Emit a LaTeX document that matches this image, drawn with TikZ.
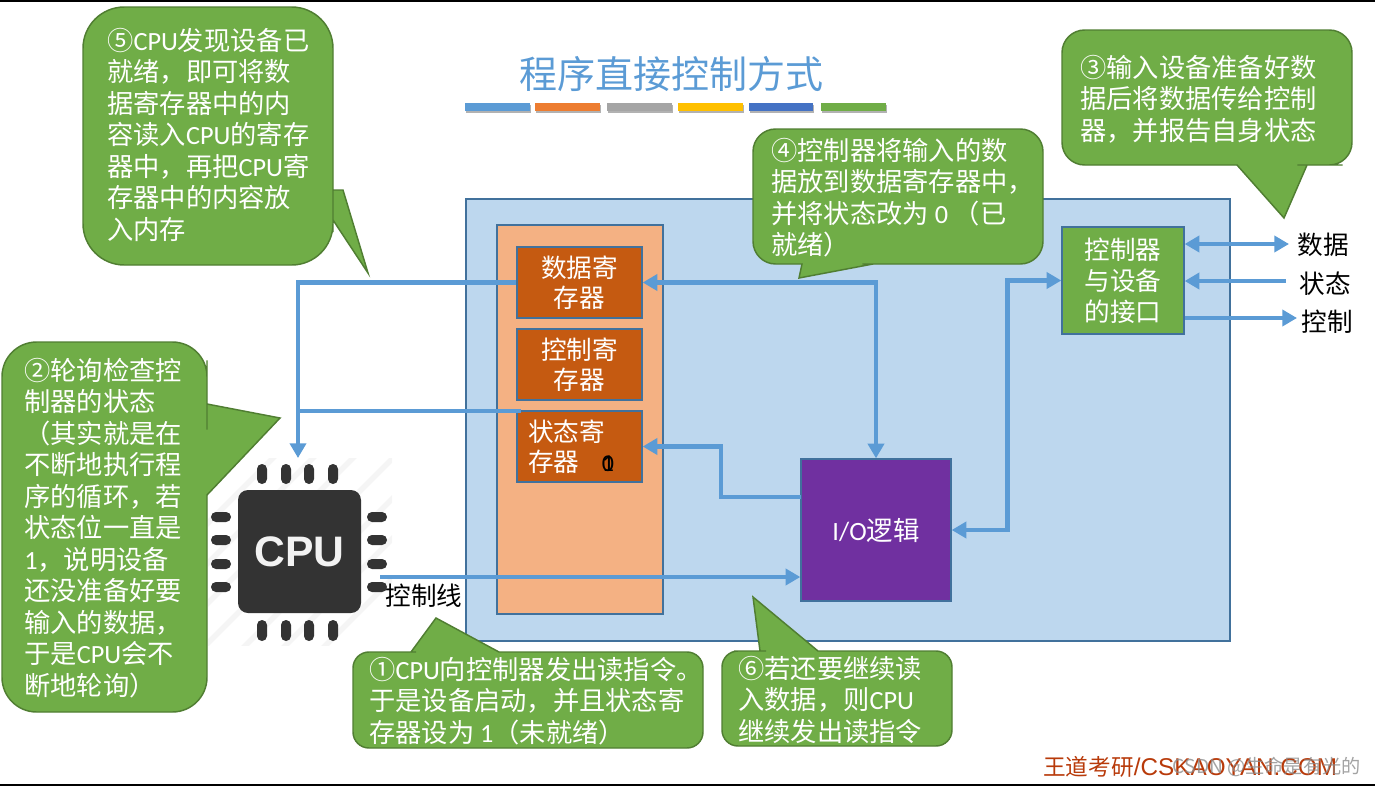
\documentclass[tikz,border=0pt]{standalone}
\usepackage{fontspec}
\setmainfont{Noto Sans CJK SC}
\newfontfamily\latinfont{Carlito}
\newfontfamily\arialfont{Liberation Sans}
\newcommand{\lat}[1]{{\latinfont #1}}
\usetikzlibrary{arrows.meta}
\def\px{0.75pt}
\definecolor{panelblue}{HTML}{BDD7EE}
\definecolor{edgeblue}{HTML}{41719C}
\definecolor{flowblue}{HTML}{5B9BD5}
\definecolor{peach}{HTML}{F4B183}
\definecolor{regorange}{HTML}{C55A11}
\definecolor{calloutgreen}{HTML}{70AD47}
\definecolor{calloutedge}{HTML}{507E32}
\definecolor{iopurple}{HTML}{7030A0}
\definecolor{chipgray}{HTML}{333333}
\definecolor{brandred}{HTML}{B83A0A}
\begin{document}
\begin{tikzpicture}[
        x=\px, y=-\px,
        every node/.style={inner sep=0pt, font=\fontsize{19.2}{23.2}\selectfont},
        block/.style={draw=edgeblue, line width=1pt, text=white, align=center},
        reg/.style={block, fill=regorange, minimum width=125*\px, minimum height=71*\px, font=\fontsize{19.2}{22.5}\selectfont},
        flow/.style={draw=flowblue, line width=3.5pt, -{Triangle[length=11pt,width=12pt]}},
        dflow/.style={flow, {Triangle[length=11pt,width=12pt]}-{Triangle[length=11pt,width=12pt]}},
        rflow/.style={flow, {Triangle[length=11pt,width=12pt]}-},
        callout/.style={draw=calloutedge, fill=calloutgreen, line width=1.1pt},
        note/.style={anchor=north west, text=white, align=left, font=\fontsize{19.7}{23.6}\selectfont},
        pin/.style={fill=chipgray, rounded corners=3.7pt},
        signal/.style={text=black}
    ]
    \useasboundingbox (0,0) rectangle (1375,786);
    \fill[black] (0,0) rectangle (1375,1.5);
    \fill[black] (0,783.5) rectangle (1375,786);

    \node[text=flowblue, font=\fontsize{28.5}{32}\selectfont] (title) at (671,74) {程序直接控制方式};
    \foreach \xa/\xb/\barcol in {465/530/5B9BD5, 535/600/ED7D31, 607/672/A5A5A5, 678/743/FFC000, 749/813/4472C4, 821/886/70AD47} {
        \definecolor{barcol}{HTML}{\barcol}
        \fill[black!30] (\xa+1,105) rectangle (\xb+1,113);
        \fill[barcol] (\xa,103) rectangle (\xb,111);
    }

    \begin{scope}
        \clip (208,458) rectangle (392,645);
        \foreach \d in {-120,-80,...,120} {
            \draw[black!4, line width=4pt] (299+\d-100,552+100) -- (299+\d+100,552-100);
        }
    \end{scope}

    \draw[draw=edgeblue, fill=panelblue, line width=1pt] (466,199) rectangle (1230,641);
    \draw[draw=edgeblue, fill=peach, line width=1pt] (497,225) rectangle (663,614);

    \node[reg] (datareg) at (579.5,282.5) {数据寄\\存器};
    \node[reg] (ctrlreg) at (579.5,364.5) {控制寄\\存器};
    \node[reg] (statreg) at (579.5,446.5) {状态寄\phantom{状}\\存器\phantom{状状}};
    \node[signal, font=\latinfont\fontsize{18}{20}\selectfont] (statzero) at (608,464) {0};
    \node[signal, font=\latinfont\fontsize{18}{20}\selectfont] (statone) at (608,464) {1};
    \node[block, fill=iopurple, minimum width=150*\px, minimum height=142*\px, font=\fontsize{19.8}{23}\selectfont] (iologic) at (876,530) {\raisebox{-2.2pt}{\lat{I/O}逻辑}};
    \node[block, fill=calloutgreen, minimum width=122*\px, minimum height=107*\px, font=\fontsize{19.2}{23.2}\selectfont] (ctrlport) at (1123,280.5) {\raisebox{-1.5pt}{控制器}\\\raisebox{-1.5pt}{与设备}\\\raisebox{-1.5pt}{的接口}};

    \node[pin, fill=chipgray, rounded corners=7.5pt, minimum width=123*\px, minimum height=123*\px, text=white!95!black, font=\arialfont\bfseries\fontsize{32}{36}\selectfont] (cpu) at (299.5,551.5) {CPU};
    \foreach \p in {262,286,309,333} {
        \fill[pin] (\p-5,464) rectangle (\p+5,484);
        \fill[pin] (\p-5,620) rectangle (\p+5,641);
    }
    \foreach \p in {517,540,564,587} {
        \fill[pin] (211,\p-5) rectangle (231,\p+5);
        \fill[pin] (367,\p-5) rectangle (387,\p+5);
    }

    \node[signal] (datasig) at (1323,245) {数据};
    \node[signal] (statsig) at (1325,284) {状态};
    \node[signal] (ctrlsig) at (1327,322) {控制};
    \node[signal] (ctrlline) at (424,596) {控制线};

    \coordinate (cpuin) at (298,458);
    \coordinate (cpujoin) at (298,411);
    \coordinate (cpuout) at (380,577);
    \coordinate (iostat) at (801,497);
    \coordinate (datapin) at (1289,244);
    \coordinate (statpin) at (1286,281);
    \coordinate (ctrlpin) at (1297,318);

    \draw[flow] (datareg.west) -| (cpuin);
    \draw[draw=flowblue, line width=3.2pt] ([xshift=3.5pt]cpujoin -| statreg.west) -- (cpujoin);
    \draw[flow, line width=3.2pt] (cpuout) -- (cpuout -| iologic.west);
    \draw[dflow] (datareg.east) -| (iologic.north);
    \draw[flow] (iostat) -- ++(-80,0) |- (statreg.east);
    \draw[dflow] (iologic.east) -- ++(56,0) |- (ctrlport.west);
    \draw[dflow] (ctrlport.east |- datapin) -- (datapin);
    \draw[rflow] (ctrlport.east |- statpin) -- (statpin);
    \draw[flow] (ctrlport.east |- ctrlpin) -- (ctrlpin);

    \draw[callout] (200,7) [rounded corners=31pt] -- (333,7) -- (333,180) [sharp corners] -- (333,190) -- (343,190) -- (368,273) -- (333,220) -- (333,232) [rounded corners=31pt] -- (333,265) -- (83,265) -- (83,7) -- cycle;
    \node[note] (stepfive) at (107,28) {⑤\lat{CPU}发现设备已\\就绪，即可将数\\据寄存器中的内\\容读入\lat{CPU}的寄存\\器中，再把\lat{CPU}寄\\存器中的内容放\\入内存};

    \draw[callout] (100,342) [rounded corners=26pt] -- (207,342) -- (207,395) [sharp corners] -- (207,404) -- (280,418) -- (207,495) -- (207,510) [rounded corners=26pt] -- (207,712) -- (2,712) -- (2,342) -- cycle;
    \node[note] (steptwo) at (24,358) {②轮询检查控\\制器的状态\\（其实就是在\\不断地执行程\\序的循环，若\\状态位一直是\\\lat{1}，说明设备\\还没准备好要\\输入的数据，\\于是\lat{CPU}会不\\断地轮询）};

    \draw[callout] (1200,30) [rounded corners=17pt] -- (1352,30) -- (1352,165) -- (1320,165) [sharp corners] -- (1307,165) -- (1284,218) -- (1237,165) -- (1220,165) [rounded corners=17pt] -- (1062,165) -- (1062,30) -- cycle;
    \node[note] (stepthree) at (1080,55) {③输入设备准备好数\\据后将数据传给控制\\器，并报告自身状态};

    \draw[callout] (900,129) [rounded corners=17pt] -- (1043,129) -- (1043,264) -- (885,264) [sharp corners] -- (873,264) -- (799,278) -- (802,264) -- (790,264) [rounded corners=17pt] -- (753,264) -- (753,129) -- cycle;
    \node[note] (stepfour) at (771,138) {④控制器将输入的数\\据放到数据寄存器中，\\并将状态改为 \lat{0}\ （已\\就绪）};

    \draw[callout] (411,652) [sharp corners] -- (436,618) -- (499,652) -- (510,652) [rounded corners=12pt] -- (703,652) -- (703,748) -- (353,748) -- (353,652) -- (400,652) [sharp corners] -- cycle;
    \node[note] (stepone) at (369,657) {①\lat{CPU}向控制器发出读指令。\\于是设备启动，并且状态寄\\存器设为 \lat{1}（未就绪）};

    \draw[callout] (760,651) [sharp corners] -- (753,597) -- (818,651) -- (830,651) [rounded corners=12pt] -- (952,651) -- (952,746) -- (722,746) -- (722,651) -- (750,651) [sharp corners] -- cycle;
    \node[note] (stepsix) at (738,656) {⑥若还要继续读\\入数据，则\lat{CPU}\\继续发出读指令};

    \node[text=brandred, anchor=west, font=\fontsize{17}{20}\selectfont] (brand) at (1043,767) {王道考研{\arialfont\fontsize{18.2}{20}\selectfont /CSKAOYAN.COM}};
    \node[text=black!45, opacity=.8, anchor=east, font=\fontsize{14.4}{16}\selectfont] (mark) at (1361,767) {CSDN @生命是有光的};
\end{tikzpicture}
\end{document}
